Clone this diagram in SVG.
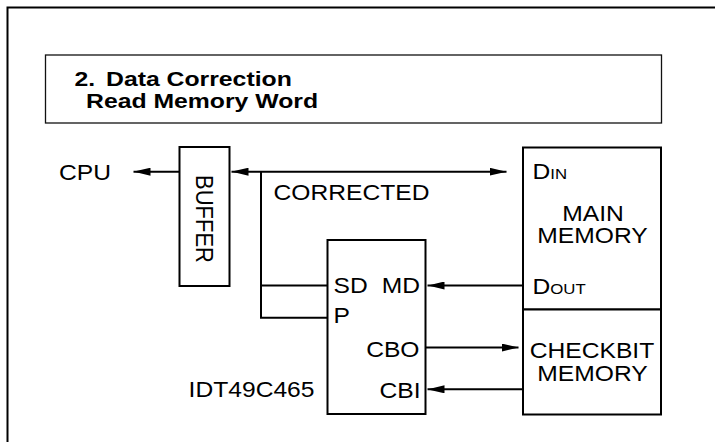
<svg xmlns="http://www.w3.org/2000/svg" width="715" height="442" viewBox="0 0 715 442">
<defs>
<style>
.t{font-family:"Liberation Sans",Arial,Helvetica,sans-serif;font-size:22px;fill:#000}
.sc{font-size:15px}
.title{font-family:"Liberation Sans",Arial,Helvetica,sans-serif;font-size:21px;font-weight:bold;fill:#000}
.box{fill:#fff;stroke:#000;stroke-width:2}
.tbox{fill:#fff;stroke:#111;stroke-width:1.3}
.wire{fill:none;stroke:#000;stroke-width:2}
.frame{fill:none;stroke:#000;stroke-width:2}
.m{text-anchor:middle}
.e{text-anchor:end}
</style>
<marker id="ah" viewBox="0 0 17 8" refX="17" refY="4" markerWidth="17" markerHeight="8" markerUnits="userSpaceOnUse" orient="auto-start-reverse"><path d="M0,0L17,4L0,8z" fill="#000"/></marker>
</defs>
<rect width="715" height="442" fill="#fff"/>
<path class="frame" d="M7.5,442V7.5H715"/>
<g id="title">
<rect class="tbox" x="45.5" y="55" width="616" height="68"/>
<text class="title" transform="translate(74.5,86) scale(1.18,1)">2.</text>
<text class="title" transform="translate(106,86) scale(1.18,1)">Data Correction</text>
<text class="title" transform="translate(86,107.5) scale(1.18,1)">Read Memory Word</text>
</g>
<g id="cpu">
<text class="t" transform="translate(59,180) scale(1.12,1)">CPU</text>
</g>
<g id="buffer">
<rect class="box" x="179.5" y="147" width="50" height="139"/>
<text class="t m" transform="translate(195.5,219) scale(1.12,1) rotate(90)">BUFFER</text>
</g>
<g id="edc">
<rect class="box" x="327.5" y="240" width="98" height="174"/>
<text class="t" transform="translate(333.5,293.3) scale(1.12,1)">SD</text>
<text class="t e" transform="translate(420,293.3) scale(1.12,1)">MD</text>
<text class="t" transform="translate(333.5,323.3) scale(1.12,1)">P</text>
<text class="t e" transform="translate(419.5,356.7) scale(1.12,1)">CBO</text>
<text class="t e" transform="translate(420.5,397.5) scale(1.12,1)">CBI</text>
<text class="t e" transform="translate(314.5,397) scale(1.12,1)">IDT49C465</text>
</g>
<g id="main-memory">
<rect class="box" x="523" y="147.5" width="138" height="162"/>
<text class="t" transform="translate(532.5,179.3) scale(1.12,1)">D<tspan class="sc">IN</tspan></text>
<text class="t m" transform="translate(593,220.5) scale(1.12,1)">MAIN</text>
<text class="t m" transform="translate(592.5,243) scale(1.12,1)">MEMORY</text>
<text class="t" transform="translate(532.5,293.5) scale(1.12,1)">D<tspan class="sc">OUT</tspan></text>
</g>
<g id="checkbit-memory">
<rect class="box" x="523" y="309.5" width="138" height="105"/>
<text class="t m" transform="translate(592,357.7) scale(1.12,1)">CHECKBIT</text>
<text class="t m" transform="translate(592.5,380.7) scale(1.12,1)">MEMORY</text>
</g>
<g id="connectors">
<path class="wire" d="M179.5,171.7H133.5" marker-end="url(#ah)"/>
<path class="wire" d="M231.5,171.7H506.5" marker-start="url(#ah)" marker-end="url(#ah)"/>
<path class="wire" d="M327.5,317.7H261V171.7"/>
<path class="wire" d="M261,285.5H327.5"/>
<path class="wire" d="M523,285.5H427.5" marker-end="url(#ah)"/>
<path class="wire" d="M425.5,347.5H518.5" marker-end="url(#ah)"/>
<path class="wire" d="M523,389.3H427.5" marker-end="url(#ah)"/>
</g>
<g id="label-corrected">
<text class="t" transform="translate(273.5,200) scale(1.12,1)">CORRECTED</text>
</g>
</svg>
